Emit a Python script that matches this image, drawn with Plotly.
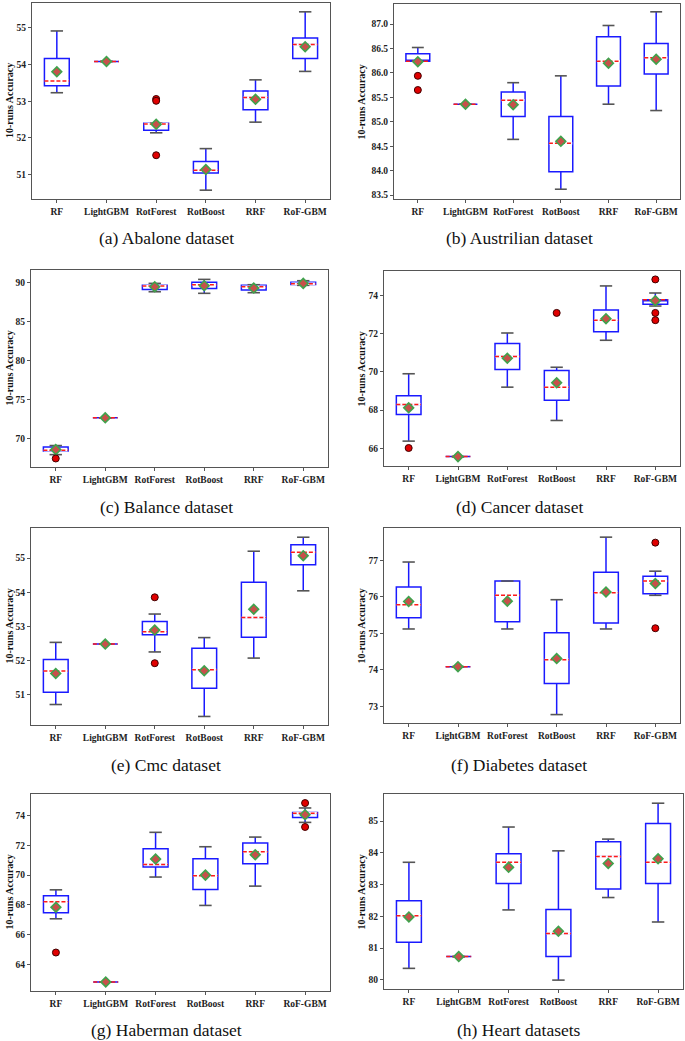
import plotly.graph_objects as go

MODELS = ["RF", "LightGBM", "RotForest", "RotBoost", "RRF", "RoF-GBM"]

# (a) Abalone
ABALONE_LOW = [53.23, 54.08, 52.14, 50.58, 52.43, 53.81]
ABALONE_Q1 = [53.42, 54.08, 52.21, 51.05, 52.77, 54.16]
ABALONE_MED = [53.55, 54.08, 52.38, 51.12, 53.10, 54.54]
ABALONE_Q3 = [54.16, 54.08, 52.40, 51.36, 53.28, 54.72]
ABALONE_HIGH = [54.91, 54.08, 52.41, 51.71, 53.58, 55.43]
ABALONE_MEAN = [53.80, 54.08, 52.37, 51.14, 53.05, 54.48]
ABALONE_OUT_X = [2, 2, 2]
ABALONE_OUT_Y = [53.06, 53.01, 51.53]

# (b) Austrilian
AUS_LOW = [86.24, 85.36, 84.64, 83.62, 85.36, 85.23]
AUS_Q1 = [86.24, 85.36, 85.11, 83.98, 85.73, 85.98]
AUS_MED = [86.24, 85.36, 85.44, 84.56, 86.24, 86.31]
AUS_Q3 = [86.39, 85.36, 85.61, 85.11, 86.74, 86.60]
AUS_HIGH = [86.52, 85.36, 85.80, 85.94, 86.97, 87.25]
AUS_MEAN = [86.23, 85.36, 85.35, 84.60, 86.20, 86.28]
AUS_OUT_X = [0, 0]
AUS_OUT_Y = [85.94, 85.65]

# (c) Balance
BAL_LOW = [67.99, 72.69, 88.80, 88.60, 88.68, 89.62]
BAL_Q1 = [68.46, 72.69, 89.10, 89.23, 89.02, 89.74]
BAL_MED = [68.55, 72.69, 89.53, 89.70, 89.44, 89.83]
BAL_Q3 = [68.98, 72.69, 89.62, 90.00, 89.62, 90.00]
BAL_HIGH = [69.15, 72.69, 89.87, 90.38, 89.70, 90.21]
BAL_MEAN = [68.63, 72.69, 89.44, 89.57, 89.27, 89.87]
BAL_OUT_X = [0]
BAL_OUT_Y = [67.50]

# (d) Cancer
CAN_LOW = [66.38, 65.57, 69.20, 67.46, 71.65, 73.44]
CAN_Q1 = [67.77, 65.57, 70.12, 68.52, 72.10, 73.53]
CAN_MED = [68.30, 65.57, 70.80, 69.20, 72.70, 73.77]
CAN_Q3 = [68.75, 65.57, 71.48, 70.07, 73.23, 73.77]
CAN_HIGH = [69.90, 65.57, 72.03, 70.24, 74.49, 74.12]
CAN_MEAN = [68.12, 65.57, 70.71, 69.43, 72.78, 73.72]
CAN_OUT_X = [0, 3, 5, 5, 5]
CAN_OUT_Y = [66.02, 73.08, 74.83, 73.08, 72.70]

# (e) Cmc
CMC_LOW = [50.71, 52.48, 52.25, 50.36, 52.07, 54.04]
CMC_Q1 = [51.07, 52.48, 52.75, 51.19, 52.68, 54.80]
CMC_MED = [51.69, 52.48, 52.84, 51.73, 53.26, 55.17]
CMC_Q3 = [52.03, 52.48, 53.14, 52.36, 54.29, 55.39]
CMC_HIGH = [52.53, 52.48, 53.36, 52.67, 55.20, 55.61]
CMC_MEAN = [51.62, 52.48, 52.89, 51.70, 53.50, 55.07]
CMC_OUT_X = [2, 2]
CMC_OUT_Y = [53.85, 51.92]

# (f) Diabetes
DIA_LOW = [75.12, 74.09, 75.12, 72.78, 75.12, 76.04]
DIA_Q1 = [75.43, 74.09, 75.32, 73.63, 75.28, 76.08]
DIA_MED = [75.78, 74.09, 76.04, 74.28, 76.11, 76.43]
DIA_Q3 = [76.27, 74.09, 76.43, 75.02, 76.67, 76.56]
DIA_HIGH = [76.95, 74.09, 76.43, 75.92, 77.63, 76.70]
DIA_MEAN = [75.87, 74.09, 75.88, 74.31, 76.13, 76.36]
DIA_OUT_X = [5, 5]
DIA_OUT_Y = [77.48, 75.14]

# (g) Haberman
HAB_LOW = [67.06, 62.81, 69.87, 67.96, 69.26, 73.55]
HAB_Q1 = [67.46, 62.81, 70.54, 69.03, 70.76, 73.87]
HAB_MED = [68.20, 62.81, 70.72, 69.96, 71.57, 74.16]
HAB_Q3 = [68.61, 62.81, 71.78, 71.10, 72.16, 74.22]
HAB_HIGH = [69.01, 62.81, 72.88, 71.91, 72.56, 74.52]
HAB_MEAN = [67.84, 62.81, 71.08, 70.00, 71.37, 74.07]
HAB_OUT_X = [0, 5, 5]
HAB_OUT_Y = [64.79, 74.85, 73.24]

# (h) Heart
HEA_LOW = [80.36, 80.73, 82.20, 79.99, 82.59, 81.82]
HEA_Q1 = [81.18, 80.73, 83.03, 80.73, 82.86, 83.03]
HEA_MED = [82.02, 80.73, 83.70, 81.46, 83.88, 83.70]
HEA_Q3 = [82.49, 80.73, 83.97, 82.21, 84.35, 84.92]
HEA_HIGH = [83.70, 80.73, 84.81, 84.06, 84.43, 85.56]
HEA_MEAN = [81.98, 80.73, 83.54, 81.53, 83.66, 83.81]
HEA_OUT_X = []
HEA_OUT_Y = []

CAPTIONS = ["(a) Abalone dataset", "(b) Austrilian dataset", "(c) Balance dataset",
            "(d) Cancer dataset", "(e) Cmc dataset", "(f) Diabetes dataset",
            "(g) Haberman dataset", "(h) Heart datasets"]

PANELS = [
    (ABALONE_LOW, ABALONE_Q1, ABALONE_MED, ABALONE_Q3, ABALONE_HIGH, ABALONE_MEAN, ABALONE_OUT_X, ABALONE_OUT_Y),
    (AUS_LOW, AUS_Q1, AUS_MED, AUS_Q3, AUS_HIGH, AUS_MEAN, AUS_OUT_X, AUS_OUT_Y),
    (BAL_LOW, BAL_Q1, BAL_MED, BAL_Q3, BAL_HIGH, BAL_MEAN, BAL_OUT_X, BAL_OUT_Y),
    (CAN_LOW, CAN_Q1, CAN_MED, CAN_Q3, CAN_HIGH, CAN_MEAN, CAN_OUT_X, CAN_OUT_Y),
    (CMC_LOW, CMC_Q1, CMC_MED, CMC_Q3, CMC_HIGH, CMC_MEAN, CMC_OUT_X, CMC_OUT_Y),
    (DIA_LOW, DIA_Q1, DIA_MED, DIA_Q3, DIA_HIGH, DIA_MEAN, DIA_OUT_X, DIA_OUT_Y),
    (HAB_LOW, HAB_Q1, HAB_MED, HAB_Q3, HAB_HIGH, HAB_MEAN, HAB_OUT_X, HAB_OUT_Y),
    (HEA_LOW, HEA_Q1, HEA_MED, HEA_Q3, HEA_HIGH, HEA_MEAN, HEA_OUT_X, HEA_OUT_Y),
]

W, H = 685, 1041

# layout in window pixels: frame left, right, top, bottom
FRAMES = [(32, 330, 3, 199), (394, 680, 4, 199),
          (31, 328, 270, 467), (384, 680, 271, 466),
          (31, 328, 528, 725), (384, 680, 528, 723),
          (31, 330, 794, 991), (384, 683, 794, 989)]
YRANGES = [(50.34, 55.67), (83.42, 87.41), (66.41, 91.58), (65.08, 75.27),
           (50.11, 55.88), (72.55, 77.88), (62.20, 75.46), (79.71, 85.85)]
YTICKS = [([51, 52, 53, 54, 55], None),
          ([83.5, 84, 84.5, 85, 85.5, 86, 86.5, 87], ".1f"),
          ([70, 75, 80, 85, 90], None),
          ([66, 68, 70, 72, 74], None),
          ([51, 52, 53, 54, 55], None),
          ([73, 74, 75, 76, 77], None),
          ([64, 66, 68, 70, 72, 74], None),
          ([80, 81, 82, 83, 84, 85], None)]
CAPTION_Y = [238, 238, 507, 507, 765, 765, 1030, 1030]
CAPTION_X = [166, 519]
YTITLE_X = [9, 361]


def px_x(v):
    return min(max(v / W, 0.0), 1.0)


def px_y(v):
    return min(max(1 - v / H, 0.0), 1.0)


SERIF = "Liberation Serif, Times New Roman, serif"
BLUE = "#1a1aff"
GRAY = "#555555"
BOX_W = 0.5
CAP_W = 0.25

fig = go.Figure()
layout = {}
annotations = []

for k, (low, q1, med, q3, high, mean, ox, oy) in enumerate(PANELS):
    n = k + 1
    xa = "x" if n == 1 else f"x{n}"
    ya = "y" if n == 1 else f"y{n}"
    idx = list(range(len(MODELS)))

    # whisker caps
    for i in idx:
        for v in (low[i], high[i]):
            fig.add_trace(go.Scatter(x=[i - CAP_W / 2, i + CAP_W / 2], y=[v, v], mode="lines",
                                     line=dict(color=GRAY, width=1.6), xaxis=xa, yaxis=ya,
                                     showlegend=False, hoverinfo="skip"))
    # boxes
    fig.add_trace(go.Box(x=idx, q1=q1, median=med, q3=q3, lowerfence=low, upperfence=high,
                         width=BOX_W, whiskerwidth=0, line=dict(color=BLUE, width=1.5),
                         fillcolor="rgba(255,255,255,0)", boxpoints=False,
                         xaxis=xa, yaxis=ya, showlegend=False))
    # medians (hide plotly's blue median when strictly inside the box)
    for i in idx:
        if q1[i] < med[i] < q3[i]:
            fig.add_trace(go.Scatter(x=[i - BOX_W / 2 + 0.01, i + BOX_W / 2 - 0.01], y=[med[i], med[i]],
                                     mode="lines", line=dict(color="white", width=2.5),
                                     xaxis=xa, yaxis=ya, showlegend=False, hoverinfo="skip"))
        fig.add_trace(go.Scatter(x=[i - BOX_W / 2, i + BOX_W / 2], y=[med[i], med[i]],
                                 mode="lines", line=dict(color="#ff1a1a", width=1.5, dash="4px,2px"),
                                 xaxis=xa, yaxis=ya, showlegend=False, hoverinfo="skip"))
    # means
    fig.add_trace(go.Scatter(x=idx, y=mean, mode="markers",
                             marker=dict(symbol="diamond", size=7.5, color="#c8504a",
                                         line=dict(color="#3fa34d", width=1.6)),
                             xaxis=xa, yaxis=ya, showlegend=False))
    # outliers
    if ox:
        fig.add_trace(go.Scatter(x=ox, y=oy, mode="markers",
                                 marker=dict(symbol="circle", size=7, color="#e00000",
                                             line=dict(color="#400000", width=1)),
                                 xaxis=xa, yaxis=ya, showlegend=False))

    l, r, t, b = FRAMES[k]
    tv, fmt = YTICKS[k]
    xkey = "xaxis" if n == 1 else f"xaxis{n}"
    ykey = "yaxis" if n == 1 else f"yaxis{n}"
    axis_common = dict(showline=True, mirror=True, linecolor=GRAY, linewidth=1.2,
                       ticks="outside", ticklen=3, tickcolor=GRAY, showgrid=False, zeroline=False,
                       tickfont=dict(family=SERIF, size=9.5, color="#222222", weight="bold"))
    layout[xkey] = dict(domain=[px_x(l), px_x(r)], range=[-0.5, 5.5], tickvals=idx, ticktext=MODELS,
                        anchor=ya, **axis_common)
    layout[ykey] = dict(domain=[px_y(b), px_y(t)], range=list(YRANGES[k]), tickvals=tv,
                        anchor=xa, **axis_common)
    if fmt:
        layout[ykey]["tickformat"] = fmt

    col = k % 2
    annotations.append(dict(text=CAPTIONS[k], x=px_x(CAPTION_X[col]), y=px_y(CAPTION_Y[k]),
                            xref="paper", yref="paper", showarrow=False, xanchor="center",
                            yanchor="middle", font=dict(family=SERIF, size=17.5, color="#111111")))
    annotations.append(dict(text="10-runs Accuracy", x=px_x(YTITLE_X[col]), y=px_y((t + b) / 2),
                            xref="paper", yref="paper", showarrow=False, textangle=-90,
                            xanchor="center", yanchor="middle",
                            font=dict(family=SERIF, size=10, color="#111111", weight="bold")))

fig.update_layout(width=W, height=H, margin=dict(l=0, r=0, t=0, b=0),
                  paper_bgcolor="white", plot_bgcolor="white", showlegend=False,
                  annotations=annotations, **layout)

fig.write_html("out.html", config={"displayModeBar": False},
               post_script="document.body.style.margin='0';document.body.style.overflow='hidden';")
